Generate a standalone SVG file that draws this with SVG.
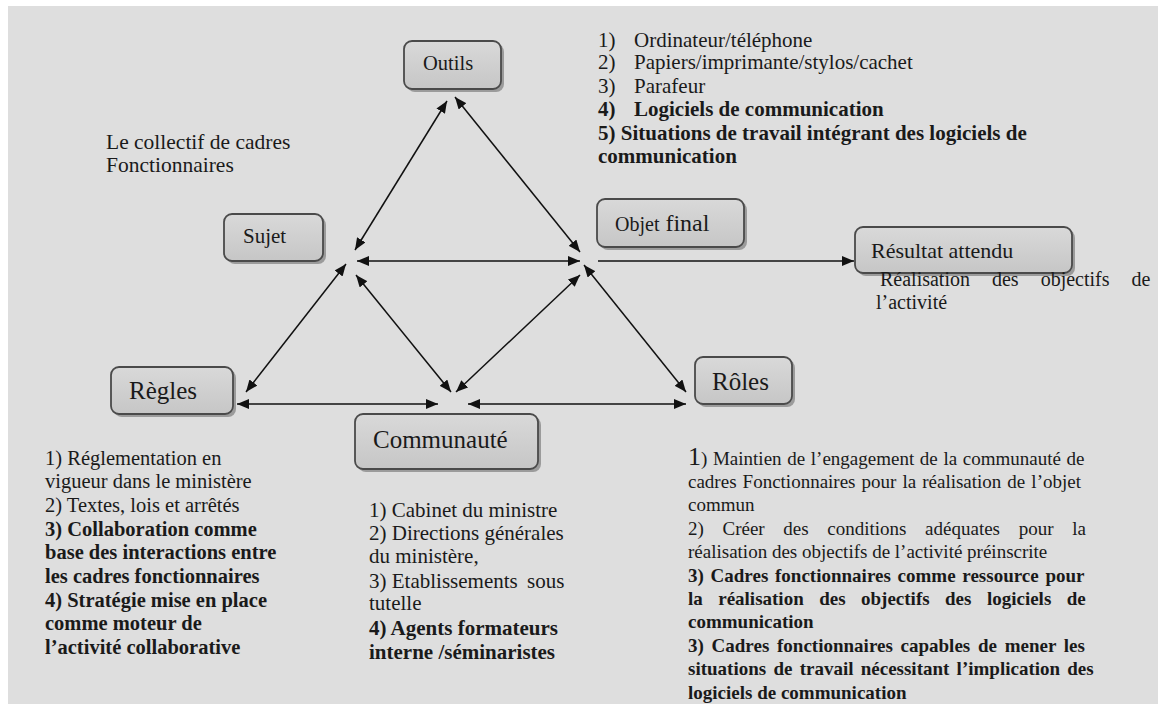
<svg xmlns="http://www.w3.org/2000/svg" width="1158" height="704" viewBox="0 0 1158 704">
<style>
text{font-family:"Liberation Serif","Times New Roman",serif;fill:#1a1a1a}
.b{font-weight:bold}
.node rect.box{fill:url(#g);stroke:#4a4a4a;stroke-width:1.8}
.node rect.sh{fill:#8a8a8a;opacity:.8}
.conn line{stroke:#111;stroke-width:1.5}
</style>
<defs>
<linearGradient id="g" x1="0" y1="0" x2="0" y2="1">
<stop offset="0" stop-color="#d9d9d9"/>
<stop offset="1" stop-color="#c6c6c6"/>
</linearGradient>
<marker id="ah" markerUnits="userSpaceOnUse" markerWidth="12" markerHeight="10" refX="12" refY="5" orient="auto-start-reverse">
<path d="M0,0 L12,5 L0,10 z" fill="#111"/>
</marker>
</defs>
<rect x="0" y="0" width="1158" height="704" fill="#ffffff"/>
<rect x="8" y="6" width="1150" height="698" fill="#dedede"/>

<g id="connectors" class="conn">
<line x1="447" y1="101" x2="355" y2="250" marker-start="url(#ah)" marker-end="url(#ah)"/>
<line x1="455" y1="97" x2="580" y2="252" marker-start="url(#ah)" marker-end="url(#ah)"/>
<line x1="357" y1="261" x2="580" y2="261" marker-start="url(#ah)" marker-end="url(#ah)"/>
<line x1="246" y1="392" x2="346" y2="264" marker-start="url(#ah)" marker-end="url(#ah)"/>
<line x1="356" y1="275" x2="451" y2="392" marker-start="url(#ah)" marker-end="url(#ah)"/>
<line x1="580" y1="275" x2="456" y2="392" marker-start="url(#ah)" marker-end="url(#ah)"/>
<line x1="584" y1="265" x2="686" y2="392" marker-start="url(#ah)" marker-end="url(#ah)"/>
<line x1="237" y1="404" x2="438" y2="404" marker-start="url(#ah)" marker-end="url(#ah)"/>
<line x1="468" y1="404" x2="686" y2="404" marker-start="url(#ah)" marker-end="url(#ah)"/>
<line x1="598" y1="261" x2="854" y2="261" marker-end="url(#ah)"/>
</g>

<g id="outils" class="node">
<rect class="sh" x="407" y="44" width="97" height="48" rx="8"/>
<rect class="box" x="404" y="41" width="97" height="48" rx="8"/>
<text x="423" y="70" font-size="20.5">Outils</text>
</g>
<g id="sujet" class="node">
<rect class="sh" x="227" y="217" width="99" height="47" rx="8"/>
<rect class="box" x="224" y="214" width="99" height="47" rx="8"/>
<text x="243" y="243" font-size="21">Sujet</text>
</g>
<g id="objet-final" class="node">
<rect class="sh" x="600" y="202" width="147" height="48" rx="8"/>
<rect class="box" x="597" y="199" width="147" height="48" rx="8"/>
<text x="615" y="231" font-size="20">Objet<tspan font-size="24"> final</tspan></text>
</g>
<g id="resultat" class="node">
<rect class="sh" x="858" y="230" width="217" height="46" rx="8"/>
<rect class="box" x="855" y="227" width="217" height="46" rx="8"/>
<text x="871" y="258" font-size="22">Résultat attendu</text>
</g>
<g id="regles" class="node">
<rect class="sh" x="114" y="370" width="122" height="47" rx="8"/>
<rect class="box" x="111" y="367" width="122" height="47" rx="8"/>
<text x="129" y="399" font-size="25">Règles</text>
</g>
<g id="communaute" class="node">
<rect class="sh" x="358" y="417" width="183" height="55" rx="8"/>
<rect class="box" x="355" y="414" width="183" height="55" rx="8"/>
<text x="373" y="448" font-size="25">Communauté</text>
</g>
<g id="roles" class="node">
<rect class="sh" x="698" y="360" width="97" height="47" rx="8"/>
<rect class="box" x="695" y="357" width="97" height="47" rx="8"/>
<text x="712" y="390" font-size="25">Rôles</text>
</g>

<g id="outils-list" font-size="21">
<text x="598" y="47">1)<tspan x="634">Ordinateur/téléphone</tspan></text>
<text x="598" y="69">2)<tspan x="634">Papiers/imprimante/stylos/cachet</tspan></text>
<text x="598" y="93">3)<tspan x="634">Parafeur</tspan></text>
<text class="b" x="598" y="116">4)<tspan x="634">Logiciels de communication</tspan></text>
<text class="b" x="598" y="140">5) Situations de travail intégrant des logiciels de</text>
<text class="b" x="598" y="163">communication</text>
</g>

<g id="sujet-text" font-size="21.5">
<text x="106" y="149">Le collectif de cadres</text>
<text x="106" y="172">Fonctionnaires</text>
</g>

<g id="resultat-text" font-size="20">
<text x="880" y="286" word-spacing="17">Réalisation des objectifs de</text>
<text x="876" y="309">l’activité</text>
</g>

<g id="regles-text" font-size="20.5">
<text x="45" y="465">1) Réglementation en</text>
<text x="45" y="488">vigueur dans le ministère</text>
<text x="45" y="512">2) Textes, lois et arrêtés</text>
<text class="b" x="45" y="536">3) Collaboration comme</text>
<text class="b" x="45" y="559">base des interactions entre</text>
<text class="b" x="45" y="583">les cadres fonctionnaires</text>
<text class="b" x="45" y="607">4) Stratégie mise en place</text>
<text class="b" x="45" y="630">comme moteur de</text>
<text class="b" x="45" y="654">l’activité collaborative</text>
</g>

<g id="communaute-text" font-size="21">
<text x="369" y="517">1) Cabinet du ministre</text>
<text x="369" y="540">2) Directions générales</text>
<text x="369" y="563">du ministère,</text>
<text x="369" y="588">3) Etablissements<tspan x="527">sous</tspan></text>
<text x="369" y="610">tutelle</text>
<text class="b" x="369" y="635">4) Agents formateurs</text>
<text class="b" x="369" y="659">interne /séminaristes</text>
</g>

<g id="roles-text" font-size="19">
<text x="688" y="465" word-spacing="0.9"><tspan font-size="26">1</tspan>) Maintien de l’engagement de la communauté de</text>
<text x="688" y="488" word-spacing="1.3">cadres Fonctionnaires pour la réalisation de l’objet</text>
<text x="688" y="511">commun</text>
<text x="688" y="535" word-spacing="13.9">2) Créer des conditions adéquates pour la</text>
<text x="688" y="558">réalisation des objectifs de l’activité préinscrite</text>
<text class="b" x="688" y="582" word-spacing="2">3) Cadres fonctionnaires comme ressource pour</text>
<text class="b" x="688" y="605" word-spacing="10.7">la réalisation des objectifs des logiciels de</text>
<text class="b" x="688" y="628">communication</text>
<text class="b" x="688" y="652" word-spacing="3">3) Cadres fonctionnaires capables de mener les</text>
<text class="b" x="688" y="675" word-spacing="2.5">situations de travail nécessitant l’implication des</text>
<text class="b" x="688" y="699">logiciels de communication</text>
</g>
</svg>
